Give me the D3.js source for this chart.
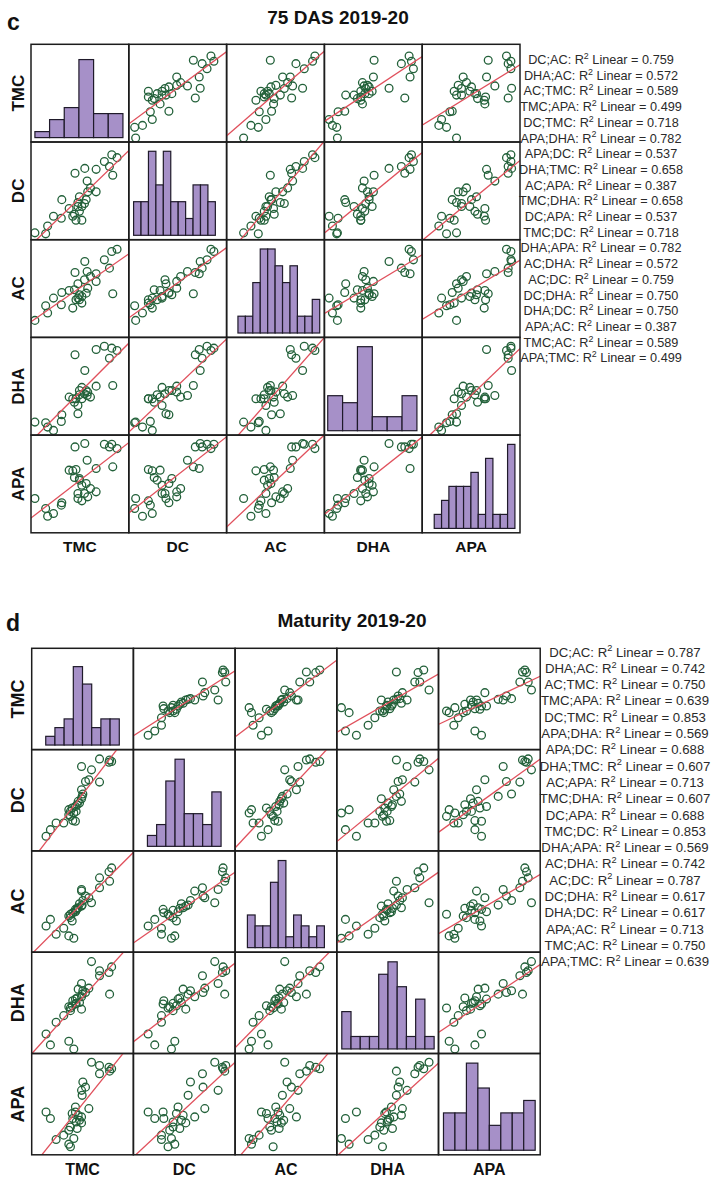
<!DOCTYPE html>
<html>
<head>
<meta charset="utf-8">
<script src="https://cdn.jsdelivr.net/npm/d3@7"></script>
<style>
  body { margin: 0; background: #fff; }
  svg { display: block; font-family: "Liberation Sans", Arial, sans-serif; }
</style>
</head>
<body>
<svg id="chart" width="711" height="1184"></svg>
<script>
var vars = ["TMC", "DC", "AC", "DHA", "APA"];

// c: 75 DAS 2019-20, 30 plots, values on a 0-100 axis scale
var tmcC = [4, 15, 17, 23, 31, 31.5, 39, 42.7, 44.4, 45, 46, 48, 48, 49.5, 49.5, 52, 52, 54.7, 55, 56.4, 57.4, 58, 60.8, 66.6, 66.6, 75, 80.2, 82.6, 83.6, 88];
var dcC = [7, 6, 14, 24, 22, 41, 32, 24, 26, 68, 20, 34, 38, 29, 44, 20, 34, 37, 73, 41, 60, 49, 53, 49, 72, 80, 75, 87, 66, 84];
var acC = [17.4, 32.4, 24.9, 40.2, 33.4, 46, 48, 30, 48.7, 66.5, 38.5, 40.2, 54.9, 38.5, 43.6, 35.1, 41.9, 59, 77.7, 45.3, 67.5, 50.4, 62.4, 57.3, 65.1, 79.4, 70.9, 87.9, 44.7, 90.3];
var dhaC = [13.3, 12.6, 8.2, 4.8, 14, 20.8, 38.9, 37.2, 33.7, 82.2, 37.2, 30.3, 21.8, 41.3, 45.7, 37.2, 48.8, 42.3, 66.1, 45.7, 40.6, 44, 38.9, 50.1, 87.6, 91, 78.7, 89, 50.8, 86.6];
var apaC = [35.1, 24.9, 17, 19.8, 28.3, 30.7, 64.1, 63.4, 56.6, 87.9, 64.8, 40.2, 35.1, 53.9, 55.5, 32.7, 48.7, 40.2, 91.4, 50.4, 74.3, 36.8, 45.3, 41.9, 65.8, 90.7, 87.9, 90.7, 67.5, 86.2];

// histogram bins on the diagonal (first edge, bin width, counts, axis top)
var histStartC = [4, 4.9, 11.6, 3.4, 12.3];
var histWidthC = [15, 7.6, 7.6, 15.2, 7.5];
var histCountsC = [
  [1, 3, 5, 13, 4, 4],
  [2, 2, 5, 3, 5, 2, 2, 1, 3, 3, 2],
  [1, 1, 3, 5, 5, 4, 3, 4, 1, 1, 2],
  [5, 4, 12, 2, 2, 5],
  [1, 2, 3, 3, 3, 4, 1, 5, 1, 1, 6]
];
var histMaxC = [14, 5, 5, 12, 6];

// d: Maturity 2019-20
var tmcD = [14.1, 18.4, 24, 31.5, 36.5, 36.5, 38.1, 38.1, 39.8, 40.4, 41.4, 43, 43, 43.7, 44.7, 45.7, 47, 49, 49, 49, 49.6, 50.3, 52.9, 56.2, 58.8, 66.7, 66.7, 76, 76.6, 78.6];
var dcD = [14.5, 21, 27.6, 27.6, 35.7, 40.7, 34.1, 39, 42.3, 29.9, 37.4, 29.2, 43.9, 39, 45.6, 48.9, 47.2, 51.5, 60.3, 83.3, 53.8, 56.1, 68.5, 70.2, 80, 67.9, 90.8, 87.5, 89.8, 88.2];
var acD = [25.9, 32.4, 17.7, 23.6, 35.7, 16.1, 37.4, 34.1, 30.8, 39, 13.8, 42.3, 40, 41.3, 43.3, 43.9, 47.8, 45.5, 60.3, 61.9, 46.5, 51.1, 55.4, 53.7, 48.8, 63.6, 73.4, 79.3, 70.1, 83.2];
var dhaD = [19.3, 8.5, 30.8, 37.4, 46.2, 12.1, 44.9, 42.3, 47.2, 52.1, 4.5, 48.8, 53.7, 49.5, 54.7, 63.5, 50.4, 43.8, 56, 69.1, 58.6, 61.9, 60.3, 64.5, 90.7, 76.7, 81.6, 79.9, 58.6, 85.5];
var apaD = [42.3, 35.8, 15.1, 19.4, 24.3, 10.5, 7.9, 27.5, 40.7, 35.8, 16.1, 42.3, 47.2, 32.4, 25.9, 39, 34.1, 31.5, 37.4, 63.6, 58.7, 71.8, 66.8, 45.6, 91.4, 80, 88.2, 86.5, 82.6, 84.9];

var histStartD = [13.8, 13.8, 12.1, 4.9, 4.9];
var histWidthD = [9.04, 9.05, 7.57, 9.08, 11.27];
var histCountsD = [
  [1, 2, 3, 9, 7, 2, 3, 3],
  [1, 2, 6, 8, 3, 3, 2, 5],
  [3, 2, 2, 6, 8, 1, 3, 2, 1, 2],
  [3, 1, 1, 1, 6, 7, 5, 1, 4, 1],
  [3, 3, 7, 5, 2, 3, 3, 4]
];
var histMaxD = [10, 8, 8, 7, 7];

// fit legend, same pair order in both panels
var legendPairs = ["DC;AC", "DHA;AC", "AC;TMC", "TMC;APA", "DC;TMC", "APA;DHA", "APA;DC", "DHA;TMC", "AC;APA", "TMC;DHA",
  "DC;APA", "TMC;DC", "DHA;APA", "AC;DHA", "AC;DC", "DC;DHA", "DHA;DC", "APA;AC", "TMC;AC", "APA;TMC"];
var r2C = [0.759, 0.572, 0.589, 0.499, 0.718, 0.782, 0.537, 0.658, 0.387, 0.658, 0.537, 0.718, 0.782, 0.572, 0.759, 0.750, 0.750, 0.387, 0.589, 0.499];
var r2D = [0.787, 0.742, 0.750, 0.639, 0.853, 0.569, 0.688, 0.607, 0.713, 0.607, 0.688, 0.853, 0.569, 0.742, 0.787, 0.617, 0.617, 0.713, 0.750, 0.639];

var svg = d3.select("#chart");

function linearFit(xs, ys) {
  var mx = d3.mean(xs), my = d3.mean(ys);
  var sxy = d3.sum(xs, function (v, k) { return (v - mx) * (ys[k] - my); });
  var sxx = d3.sum(xs, function (v) { return (v - mx) * (v - mx); });
  var b = sxy / sxx;
  return { slope: b, icept: my - b * mx };
}

function drawMatrix(cfg) {
  var g = svg.append("g");
  var W = cfg.cellW, H = cfg.cellH;
  var x = d3.scaleLinear().domain([0, 100]).range([0, W]);
  var y = d3.scaleLinear().domain([0, 100]).range([H, 0]);

  // titles
  g.append("text").attr("x", cfg.letterX).attr("y", cfg.letterY)
    .attr("font-size", 23).attr("font-weight", "bold").attr("fill", "#111").text(cfg.letter);
  g.append("text").attr("x", cfg.titleX).attr("y", cfg.titleY).attr("text-anchor", "middle")
    .attr("font-size", 19).attr("font-weight", "bold").attr("fill", "#111").text(cfg.title);

  vars.forEach(function (rowVar, i) {
    vars.forEach(function (colVar, j) {
      var cell = g.append("g")
        .attr("transform", "translate(" + (cfg.left + j * W) + "," + (cfg.top + i * H) + ")");
      var clipId = cfg.letter + "-clip-" + i + "-" + j;
      cell.append("clipPath").attr("id", clipId)
        .append("rect").attr("width", W).attr("height", H);
      var inner = cell.append("g").attr("clip-path", "url(#" + clipId + ")");

      if (i == j) {
        var hy = d3.scaleLinear().domain([0, cfg.histMax[i]]).range([H * 0.955, H * 0.095]);
        var start = cfg.histStart[i], bw = cfg.histWidth[i];
        inner.selectAll("rect.bar").data(cfg.histCounts[i]).join("rect")
          .attr("class", "bar")
          .attr("x", function (d, k) { return x(start + k * bw); })
          .attr("width", x(bw) - x(0))
          .attr("y", function (d) { return hy(d); })
          .attr("height", function (d) { return hy(0) - hy(d); })
          .attr("fill", "#a690c8")
          .attr("stroke", "#1f1a2a")
          .attr("stroke-width", 1.2);
      } else {
        var xs = cfg.data[colVar], ys = cfg.data[rowVar];
        inner.selectAll("circle").data(xs).join("circle")
          .attr("cx", function (d) { return x(d); })
          .attr("cy", function (d, k) { return y(ys[k]); })
          .attr("r", 3.9)
          .attr("fill", "none")
          .attr("stroke", "#23613a")
          .attr("stroke-width", 1.3);
        var fit = linearFit(xs, ys);
        inner.append("line")
          .attr("x1", x(-10)).attr("y1", y(fit.icept - 10 * fit.slope))
          .attr("x2", x(110)).attr("y2", y(fit.icept + 110 * fit.slope))
          .attr("stroke", "#e0505c")
          .attr("stroke-width", 1.3);
      }
      cell.append("rect").attr("width", W).attr("height", H)
        .attr("fill", "none").attr("stroke", "#1c1c1c").attr("stroke-width", 1.5);
    });

    // row label
    var ry = cfg.top + i * H + H / 2;
    g.append("text")
      .attr("transform", "translate(" + cfg.rowLabelX + "," + ry + ") rotate(-90)")
      .attr("text-anchor", "middle").attr("font-size", cfg.rowFont).attr("font-weight", "bold")
      .attr("fill", "#111").text(rowVar);
    // column label
    g.append("text")
      .attr("x", cfg.left + i * W + W / 2).attr("y", cfg.colLabelY)
      .attr("text-anchor", "middle").attr("font-size", cfg.colFont).attr("font-weight", "bold")
      .attr("fill", "#111").text(rowVar);
  });

  // R2 legend
  var leg = g.append("g").attr("font-size", cfg.legFont).attr("fill", "#2a2a2a").attr("text-anchor", "middle");
  legendPairs.forEach(function (p, k) {
    var t = leg.append("text").attr("x", cfg.legX).attr("y", cfg.legY + k * cfg.legStep);
    t.append("tspan").text(p + ": R");
    t.append("tspan").attr("font-size", cfg.legFont * 0.7).attr("dy", -cfg.legFont * 0.4).text("2");
    t.append("tspan").attr("dy", cfg.legFont * 0.4).text(" Linear = " + cfg.r2[k].toFixed(3));
  });
}

drawMatrix({
  letter: "c", letterX: 7, letterY: 30,
  title: "75 DAS 2019-20", titleX: 338, titleY: 24,
  left: 31, top: 44.3, cellW: 97.8, cellH: 97.7,
  data: { TMC: tmcC, DC: dcC, AC: acC, DHA: dhaC, APA: apaC },
  histStart: histStartC, histWidth: histWidthC, histCounts: histCountsC, histMax: histMaxC,
  rowLabelX: 23.5, rowFont: 17, colLabelY: 551.5, colFont: 15.5,
  r2: r2C, legX: 601, legY: 64, legStep: 15.7, legFont: 12.7
});

drawMatrix({
  letter: "d", letterX: 6, letterY: 630.5,
  title: "Maturity 2019-20", titleX: 352, titleY: 626.5,
  left: 31.7, top: 648.3, cellW: 101.7, cellH: 101.3,
  data: { TMC: tmcD, DC: dcD, AC: acD, DHA: dhaD, APA: apaD },
  histStart: histStartD, histWidth: histWidthD, histCounts: histCountsD, histMax: histMaxD,
  rowLabelX: 24, rowFont: 18, colLabelY: 1175, colFont: 16,
  r2: r2D, legX: 625, legY: 656.5, legStep: 16.3, legFont: 13.2
});
</script>
</body>
</html>
